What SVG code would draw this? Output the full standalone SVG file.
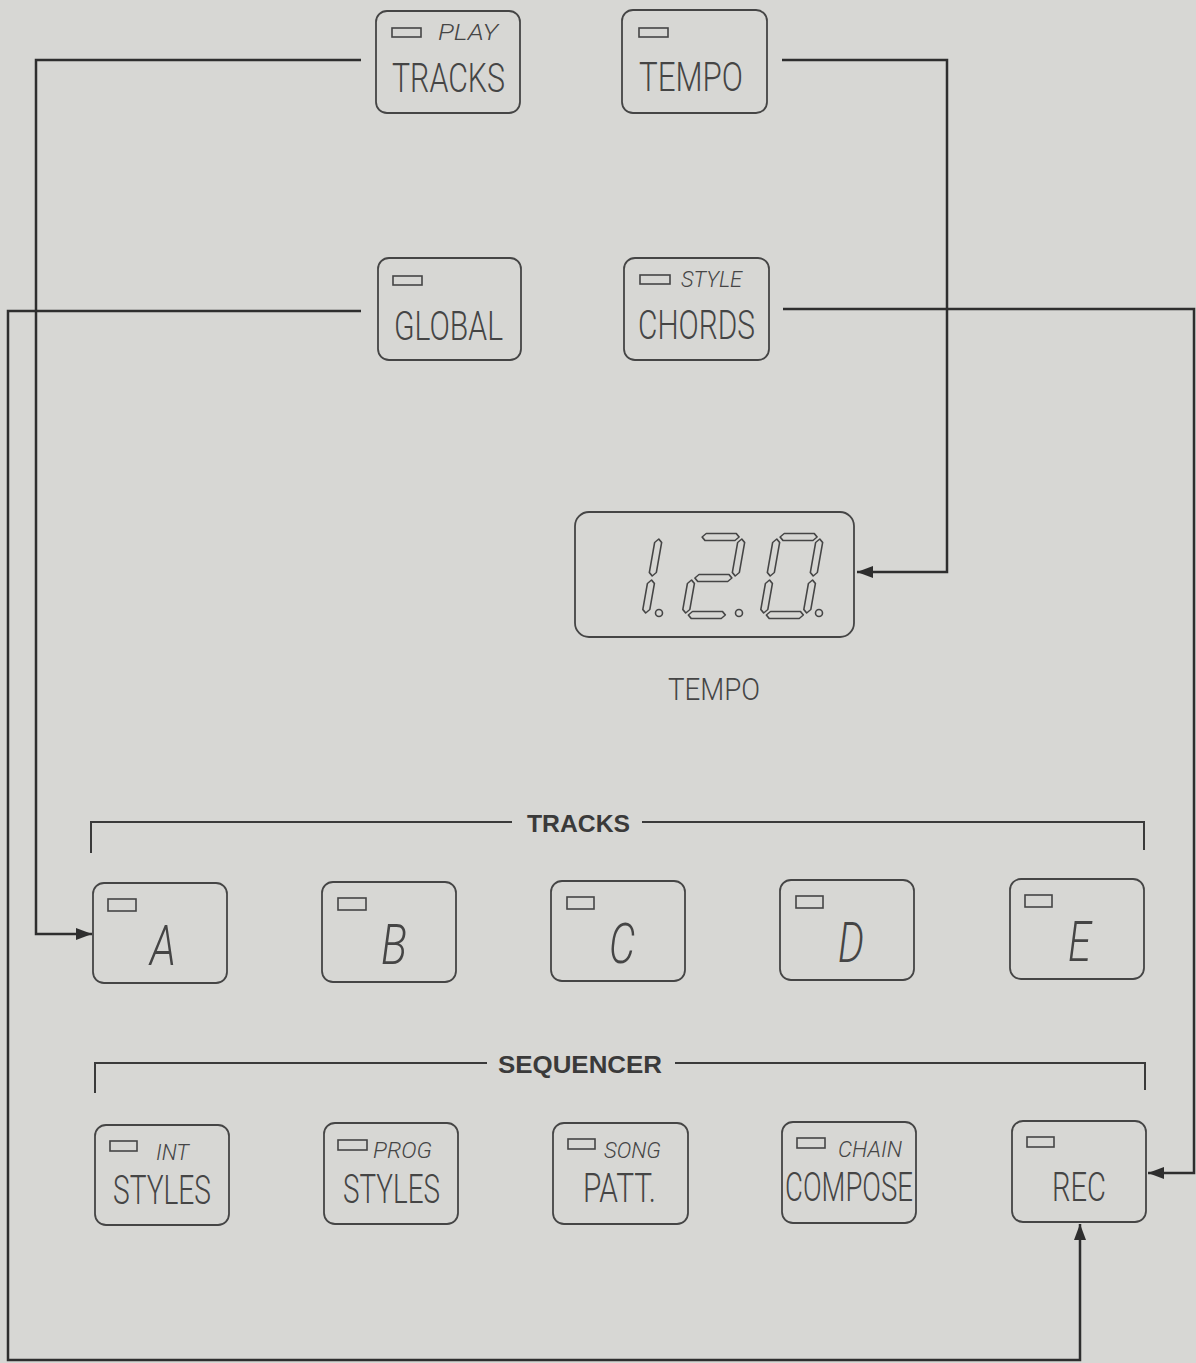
<svg xmlns="http://www.w3.org/2000/svg" xmlns:xlink="http://www.w3.org/1999/xlink" width="1196" height="1363" viewBox="0 0 1196 1363">
<style>
.bg{fill:#d7d7d4}
.btn{fill:none;stroke:#454545;stroke-width:1.8}
.led{fill:none;stroke:#454545;stroke-width:1.6}
.lbl{font-family:Roboto,"Liberation Sans",Arial,sans-serif;font-weight:300;font-size:40px;fill:#454545}
.sub{font-family:Roboto,"Liberation Sans",Arial,sans-serif;font-weight:300;font-size:22px;font-style:italic;fill:#454545}
.let{font-family:Roboto,"Liberation Sans",Arial,sans-serif;font-weight:300;font-size:56px;font-style:italic;fill:#454545}
.hdr{font-family:"Liberation Sans",Arial,sans-serif;font-size:24px;font-weight:bold;fill:#3a3a3a}
.brk{fill:none;stroke:#3a3a3a;stroke-width:2}
.con{fill:none;stroke:#2e2e2e;stroke-width:2.5}
.seg{fill:none;stroke:#454545;stroke-width:1.6;stroke-linejoin:round}
</style>
<defs>
<marker id="arr" viewBox="0 0 16 12" refX="16" refY="6" markerWidth="16" markerHeight="12" orient="auto" markerUnits="userSpaceOnUse">
<path d="M0,0 L16,6 L0,12 z" fill="#2e2e2e"/>
</marker>
<polygon id="sT" class="seg" points="6,-80 9.5,-83.5 39.5,-83.5 43,-80 39.5,-76.5 9.5,-76.5"/>
<polygon id="sM" class="seg" points="6,-39 9.5,-42.5 39.5,-42.5 43,-39 39.5,-35.5 9.5,-35.5"/>
<polygon id="sB" class="seg" points="6,-2 9.5,-5.5 39.5,-5.5 43,-2 39.5,1.5 9.5,1.5"/>
<polygon id="sUL" class="seg" points="3,-78 6.5,-74.5 6.5,-44.5 3,-41 -0.5,-44.5 -0.5,-74.5"/>
<polygon id="sUR" class="seg" points="46,-78 49.5,-74.5 49.5,-44.5 46,-41 42.5,-44.5 42.5,-74.5"/>
<polygon id="sLL" class="seg" points="3,-37 6.5,-33.5 6.5,-7.5 3,-4 -0.5,-7.5 -0.5,-33.5"/>
<polygon id="sLR" class="seg" points="46,-37 49.5,-33.5 49.5,-7.5 46,-4 42.5,-7.5 42.5,-33.5"/>
</defs>
<rect class="bg" x="0" y="0" width="1196" height="1363"/>

<g id="connectors">
<polyline class="con" points="361,60 36,60 36,934 92,934" marker-end="url(#arr)"/>
<polyline class="con" points="782,60 947,60 947,572 857,572" marker-end="url(#arr)"/>
<polyline class="con" points="361,311 8,311 8,1360 1080,1360 1080,1224" marker-end="url(#arr)"/>
<polyline class="con" points="783,309 1194,309 1194,1173 1148,1173" marker-end="url(#arr)"/>
</g>

<g id="btn-play-tracks">
<rect class="btn" x="376" y="11" width="144" height="102" rx="11"/>
<rect class="led" x="392" y="28" width="29" height="9"/>
<text class="sub" x="438" y="40" textLength="60" lengthAdjust="spacingAndGlyphs">PLAY</text>
<text class="lbl" x="392" y="92" textLength="113" lengthAdjust="spacingAndGlyphs">TRACKS</text>
</g>
<g id="btn-tempo">
<rect class="btn" x="622" y="10" width="145" height="103" rx="11"/>
<rect class="led" x="639" y="28" width="29" height="9"/>
<text class="lbl" x="639" y="91" textLength="104" lengthAdjust="spacingAndGlyphs">TEMPO</text>
</g>
<g id="btn-global">
<rect class="btn" x="378" y="258" width="143" height="102" rx="11"/>
<rect class="led" x="393" y="276" width="29" height="9"/>
<text class="lbl" x="394" y="340" textLength="109" lengthAdjust="spacingAndGlyphs">GLOBAL</text>
</g>
<g id="btn-style-chords">
<rect class="btn" x="624" y="258" width="145" height="102" rx="11"/>
<rect class="led" x="640" y="275" width="30" height="9"/>
<text class="sub" x="681" y="287" textLength="61" lengthAdjust="spacingAndGlyphs">STYLE</text>
<text class="lbl" x="638" y="339" textLength="117" lengthAdjust="spacingAndGlyphs">CHORDS</text>
</g>

<g id="tempo-display">
<rect class="btn" x="575" y="512" width="279" height="125" rx="14"/>
<g transform="translate(599,617) skewX(-10)">
<use xlink:href="#sUR"/><use xlink:href="#sLR"/>
</g>
<g transform="translate(682,617) skewX(-10)">
<use xlink:href="#sT"/><use xlink:href="#sUR"/><use xlink:href="#sM"/><use xlink:href="#sLL"/><use xlink:href="#sB"/>
</g>
<g transform="translate(760,617) skewX(-10)">
<use xlink:href="#sT"/><use xlink:href="#sUL"/><use xlink:href="#sUR"/><use xlink:href="#sLL"/><use xlink:href="#sLR"/><use xlink:href="#sB"/>
</g>
<circle class="seg" cx="659" cy="613" r="3.5"/>
<circle class="seg" cx="739" cy="613" r="3.5"/>
<circle class="seg" cx="819" cy="613" r="3.5"/>
<text class="lbl" style="font-size:32px" x="668" y="700" textLength="92" lengthAdjust="spacingAndGlyphs">TEMPO</text>
</g>

<g id="tracks-bracket">
<polyline class="brk" points="91,853 91,822 512,822"/>
<polyline class="brk" points="642,822 1144,822 1144,850"/>
<text class="hdr" x="527" y="832" textLength="103" lengthAdjust="spacingAndGlyphs">TRACKS</text>
</g>

<g id="track-a">
<rect class="btn" x="93" y="883" width="134" height="100" rx="11"/>
<rect class="led" x="108" y="899" width="28" height="12"/>
<text class="let" x="150" y="965" textLength="26" lengthAdjust="spacingAndGlyphs">A</text>
</g>
<g id="track-b">
<rect class="btn" x="322" y="882" width="134" height="100" rx="11"/>
<rect class="led" x="338" y="898" width="28" height="12"/>
<text class="let" x="381" y="964" textLength="26" lengthAdjust="spacingAndGlyphs">B</text>
</g>
<g id="track-c">
<rect class="btn" x="551" y="881" width="134" height="100" rx="11"/>
<rect class="led" x="567" y="897" width="27" height="12"/>
<text class="let" x="609" y="963" textLength="26" lengthAdjust="spacingAndGlyphs">C</text>
</g>
<g id="track-d">
<rect class="btn" x="780" y="880" width="134" height="100" rx="11"/>
<rect class="led" x="796" y="896" width="27" height="12"/>
<text class="let" x="838" y="962" textLength="26" lengthAdjust="spacingAndGlyphs">D</text>
</g>
<g id="track-e">
<rect class="btn" x="1010" y="879" width="134" height="100" rx="11"/>
<rect class="led" x="1025" y="895" width="27" height="12"/>
<text class="let" x="1068" y="961" textLength="23" lengthAdjust="spacingAndGlyphs">E</text>
</g>

<g id="sequencer-bracket">
<polyline class="brk" points="95,1093 95,1063 487,1063"/>
<polyline class="brk" points="675,1063 1145,1063 1145,1090"/>
<text class="hdr" x="498" y="1073" textLength="164" lengthAdjust="spacingAndGlyphs">SEQUENCER</text>
</g>

<g id="seq-int-styles">
<rect class="btn" x="95" y="1125" width="134" height="100" rx="11"/>
<rect class="led" x="110" y="1141" width="27" height="10"/>
<text class="sub" x="156" y="1160" textLength="33" lengthAdjust="spacingAndGlyphs">INT</text>
<text class="lbl" x="113" y="1204" textLength="98" lengthAdjust="spacingAndGlyphs">STYLES</text>
</g>
<g id="seq-prog-styles">
<rect class="btn" x="324" y="1123" width="134" height="101" rx="11"/>
<rect class="led" x="338" y="1140" width="29" height="10"/>
<text class="sub" x="373" y="1158" textLength="59" lengthAdjust="spacingAndGlyphs">PROG</text>
<text class="lbl" x="343" y="1203" textLength="97" lengthAdjust="spacingAndGlyphs">STYLES</text>
</g>
<g id="seq-song-patt">
<rect class="btn" x="553" y="1123" width="135" height="101" rx="11"/>
<rect class="led" x="568" y="1139" width="27" height="10"/>
<text class="sub" x="604" y="1158" textLength="57" lengthAdjust="spacingAndGlyphs">SONG</text>
<text class="lbl" x="583" y="1202" textLength="73" lengthAdjust="spacingAndGlyphs">PATT.</text>
</g>
<g id="seq-chain-compose">
<rect class="btn" x="782" y="1122" width="134" height="101" rx="11"/>
<rect class="led" x="797" y="1138" width="28" height="10"/>
<text class="sub" x="838" y="1157" textLength="64" lengthAdjust="spacingAndGlyphs">CHAIN</text>
<text class="lbl" x="785" y="1201" textLength="128" lengthAdjust="spacingAndGlyphs">COMPOSE</text>
</g>
<g id="seq-rec">
<rect class="btn" x="1012" y="1121" width="134" height="101" rx="11"/>
<rect class="led" x="1027" y="1137" width="27" height="10"/>
<text class="lbl" x="1052" y="1201" textLength="54" lengthAdjust="spacingAndGlyphs">REC</text>
</g>
</svg>
